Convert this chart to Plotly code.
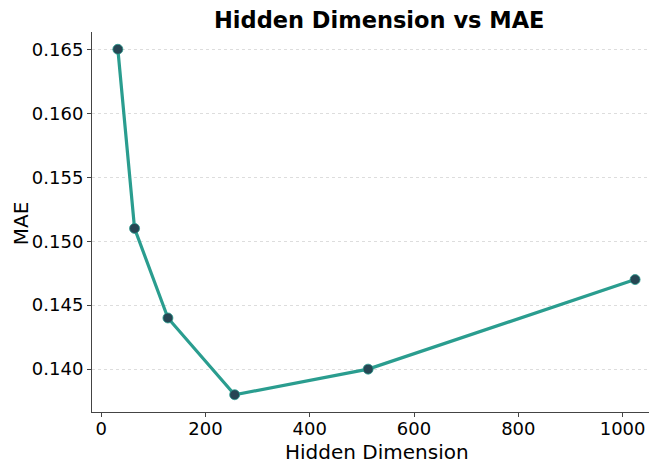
import plotly.graph_objects as go

hidden_dims = [32, 64, 128, 256, 512, 1024]
mae_values = [0.165, 0.151, 0.144, 0.138, 0.140, 0.147]
x_ticks = [0, 200, 400, 600, 800, 1000]
y_ticks = [0.140, 0.145, 0.150, 0.155, 0.160, 0.165]

fig = go.Figure()
fig.add_trace(go.Scatter(
    x=hidden_dims, y=mae_values, mode="lines+markers",
    line=dict(color="#2a9d8f", width=3.2),
    marker=dict(color="#264653", size=10, line=dict(color="#2a9d8f", width=0.8)),
    showlegend=False,
))

fig.update_layout(
    width=649, height=456,
    margin=dict(l=84, r=0, t=24, b=52, autoexpand=False),
    paper_bgcolor="white", plot_bgcolor="white",
    font=dict(family="DejaVu Sans", color="black"),
    title=dict(text="<b>Hidden Dimension vs MAE</b>", x=0.572, xanchor="center",
               y=0.974, yanchor="middle", font=dict(size=22.5)),
    annotations=[
        dict(text="Hidden Dimension", xref="paper", yref="paper", x=0.504, y=-0.105,
             xanchor="center", yanchor="middle", showarrow=False, font=dict(size=20)),
        dict(text="MAE", xref="paper", yref="paper", x=-0.1255, y=0.497, textangle=-90,
             xanchor="center", yanchor="middle", showarrow=False, font=dict(size=20)),
    ],
)
fig.update_xaxes(
    range=[-17.6, 1066], tickvals=x_ticks, ticktext=[str(v) for v in x_ticks],
    showline=True, linecolor="#444", linewidth=1, ticks="outside", ticklen=4,
    tickcolor="#444", showgrid=False, zeroline=False, automargin=False,
    tickfont=dict(size=18), ticklabelstandoff=-4,
)
fig.update_yaxes(
    range=[0.13665, 0.16635], tickvals=y_ticks, ticktext=[f"{v:.3f}" for v in y_ticks],
    showline=True, linecolor="#444", linewidth=1, ticks="outside", ticklen=4,
    tickcolor="#444", showgrid=True, gridcolor="#dddddd", griddash="dot", gridwidth=1,
    zeroline=False, automargin=False, tickfont=dict(size=18),
)

fig.write_html("out.html")
